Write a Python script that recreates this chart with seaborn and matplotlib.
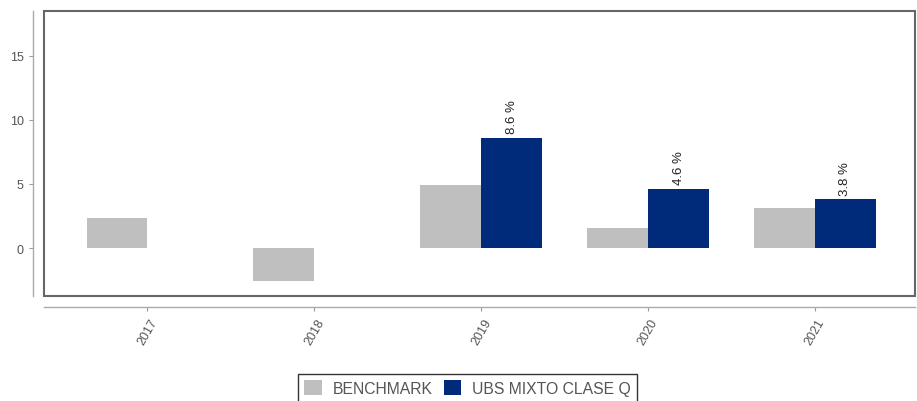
import pandas as pd
import seaborn as sns
import matplotlib.pyplot as plt
from matplotlib.patches import Rectangle

years = ['2017', '2018', '2019', '2020', '2021']
benchmark = [2.35, -2.6, 4.9, 1.6, 3.1]
fund = [None, None, 8.6, 4.6, 3.8]
fund_labels = ['', '', '8.6 %', '4.6 %', '3.8 %']
series = ['BENCHMARK', 'UBS MIXTO CLASE Q']
colors = ['#BFBFBF', '#002B7A']

df = pd.DataFrame({
    'year': years * 2,
    'value': benchmark + fund,
    'serie': [series[0]] * len(years) + [series[1]] * len(years),
})

sns.set_style('white')
plt.rcParams['font.family'] = ['Liberation Sans', 'DejaVu Sans']

fig = plt.figure(figsize=(9.17, 4.02), dpi=100)
ax = fig.add_axes([0.048, 0.261, 0.950, 0.709])

sns.barplot(data=df, x='year', y='value', hue='serie', palette=colors,
            width=0.73, saturation=1, linewidth=0, ax=ax, legend=True)

# value labels for the fund bars (NaN years have no patch, so match by x)
for bar in ax.containers[1]:
    if bar is None:
        continue
    x = bar.get_x() + bar.get_width() / 2
    lab = fund_labels[int(round(x))]
    ax.annotate(lab, (x, bar.get_height()), xytext=(0, 3.5),
                textcoords='offset points', rotation=90, ha='center',
                va='bottom', fontsize=9.5, color='#222222')

ax.set_xlim(-0.62, 4.6)
ax.set_ylim(-3.75, 18.5)
ax.set_yticks([0, 5, 10, 15])
ax.set_xlabel('')
ax.set_ylabel('')

# R-style: box around the plot plus offset axis lines
for s in ['top', 'right']:
    ax.spines[s].set_visible(False)
ax.spines['left'].set_position(('outward', 8))
ax.spines['bottom'].set_position(('outward', 8))
for s in ['left', 'bottom']:
    ax.spines[s].set_color('#AAAAAA')
    ax.spines[s].set_linewidth(1)
ax.add_patch(Rectangle((0, 0), 1, 1, transform=ax.transAxes, fill=False,
                       edgecolor='#666666', linewidth=1.5, clip_on=False))

ax.tick_params(axis='both', length=3, width=0.8, color='#999999',
               labelsize=9, labelcolor='#555555', left=True, bottom=True)
plt.setp(ax.get_xticklabels(), rotation=60, ha='center', va='top')

ax.legend(loc='upper center', bbox_to_anchor=(0.486, -0.245), ncol=2,
          frameon=True, fancybox=False, edgecolor='black', fontsize=11.3,
          handlelength=1.1, handleheight=1.1, handletextpad=0.7,
          columnspacing=0.7, borderpad=0.4)
for t in ax.get_legend().get_texts():
    t.set_color('#555555')

fig.savefig('out.png', dpi=100)
